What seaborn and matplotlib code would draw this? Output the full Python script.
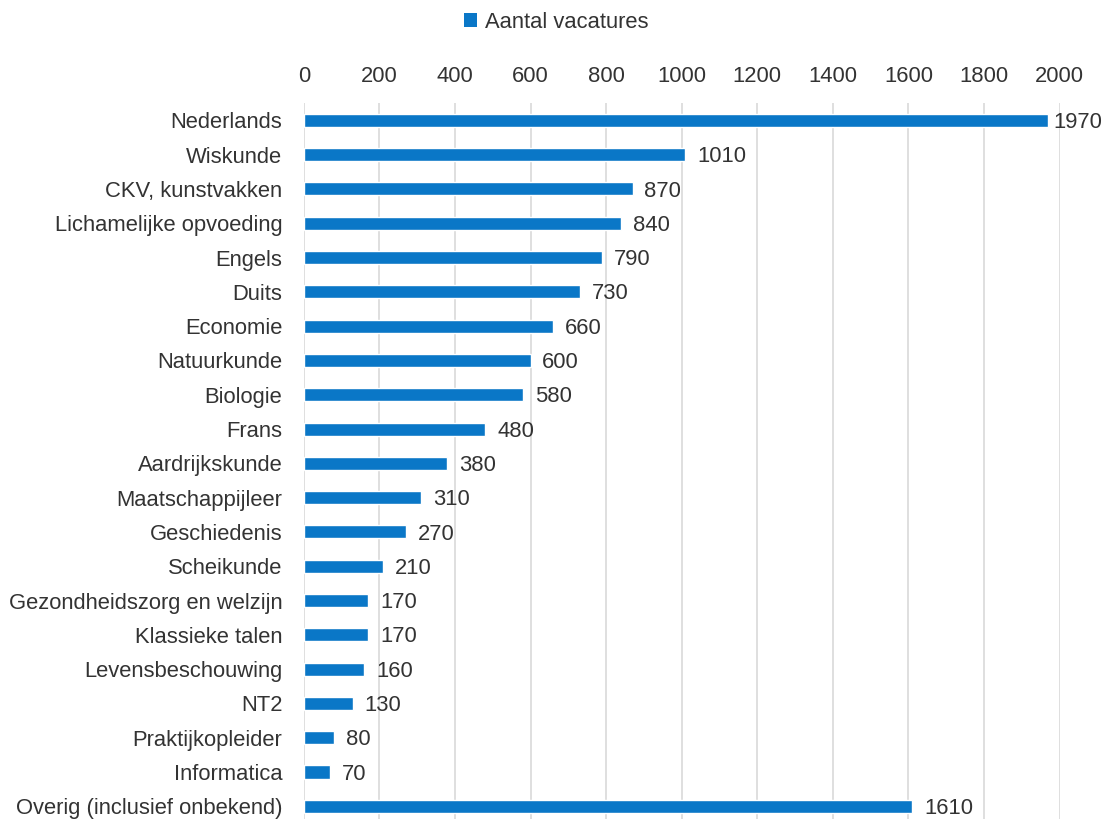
import matplotlib
matplotlib.use("Agg")
import matplotlib.pyplot as plt
import pandas as pd
import seaborn as sns
from matplotlib.patches import Patch

sns.set_theme(style="white")
plt.rcParams["font.family"] = ["Liberation Sans", "DejaVu Sans"]

VAKKEN = [
    "Nederlands",
    "Wiskunde",
    "CKV, kunstvakken",
    "Lichamelijke opvoeding",
    "Engels",
    "Duits",
    "Economie",
    "Natuurkunde",
    "Biologie",
    "Frans",
    "Aardrijkskunde",
    "Maatschappijleer",
    "Geschiedenis",
    "Scheikunde",
    "Gezondheidszorg en welzijn",
    "Klassieke talen",
    "Levensbeschouwing",
    "NT2",
    "Praktijkopleider",
    "Informatica",
    "Overig (inclusief onbekend)",
]
VACATURES = [1970, 1010, 870, 840, 790, 730, 660, 600, 580, 480, 380,
             310, 270, 210, 170, 170, 160, 130, 80, 70, 1610]
X_TICKS = [0, 200, 400, 600, 800, 1000, 1200, 1400, 1600, 1800, 2000]

BLUE = "#0A77C7"
TEXT = "#333333"
FONT_SIZE = 15.8

df = pd.DataFrame({"vak": VAKKEN, "aantal": VACATURES})

fig = plt.figure(figsize=(11.13, 8.19), dpi=100)
ax = fig.add_axes([0.273, 0.0, 0.679, 0.874])

sns.barplot(data=df, x="aantal", y="vak", order=VAKKEN, color=BLUE,
            width=0.38, saturation=1, ax=ax)

ax.set_xlim(0, 2000)
ax.set_ylim(20.37, -0.5)
ax.set_xticks(X_TICKS)
ax.xaxis.tick_top()
ax.tick_params(axis="x", length=0, pad=12, labelsize=FONT_SIZE, colors=TEXT)
ax.tick_params(axis="y", length=0, pad=15.5, labelsize=FONT_SIZE, colors=TEXT)
ax.set_xlabel("")
ax.set_ylabel("")
ax.grid(axis="x", color="#D9D9D9", linewidth=1.2)
ax.set_axisbelow(True)
for spine in ax.spines.values():
    spine.set_visible(False)

# value labels next to each bar end; labels near the edge sit a bit closer
for patch, value in zip(ax.patches, VACATURES):
    dx = 4 if patch.get_width() > 1900 else 8.5
    ax.annotate(str(value), (patch.get_width(), patch.get_y() + patch.get_height() / 2),
                xytext=(dx, -1.5), textcoords="offset points", ha="left", va="center",
                fontsize=FONT_SIZE, color=TEXT, annotation_clip=False)

handle = Patch(facecolor=BLUE, edgecolor="none")
fig.legend([handle], ["Aantal vacatures"], loc="center", bbox_to_anchor=(0.4996, 0.973),
           frameon=False, fontsize=FONT_SIZE, handlelength=0.6, handleheight=0.6,
           handletextpad=0.35, labelcolor=TEXT)

fig.savefig("out.png", dpi=100)
plt.close(fig)
